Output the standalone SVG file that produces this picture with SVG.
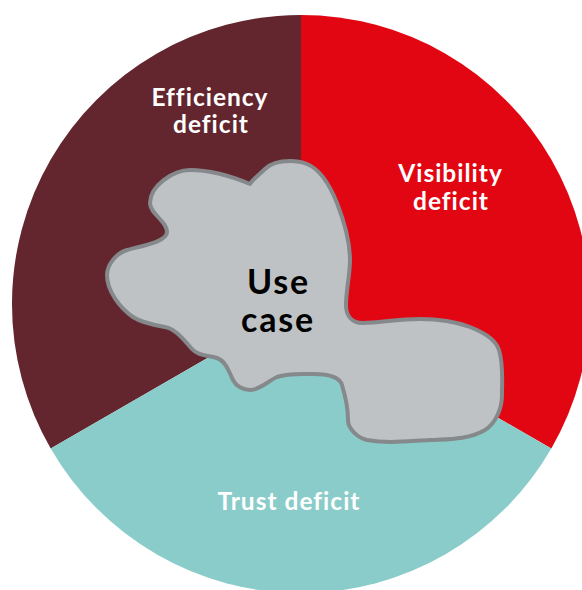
<svg xmlns="http://www.w3.org/2000/svg" width="582" height="590" viewBox="0 0 582 590">
<style>
.lbl{font-family:Lato,"Open Sans","Liberation Sans",sans-serif;font-weight:bold;fill:#ffffff;font-size:24.5px;text-anchor:middle;letter-spacing:1px;font-variant-ligatures:none}
.uc{font-family:Lato,"Open Sans","Liberation Sans",sans-serif;font-weight:bold;fill:#000000;font-size:34px;text-anchor:middle;letter-spacing:1.8px}
</style>
<rect width="582" height="590" fill="#ffffff"/>
<g id="efficiency">
<path d="M301,304 L301,15 A289,289 0 0 0 50.7,448.5 Z" fill="#63252E"/>
<text class="lbl" x="210" y="106">Efficiency</text>
<text class="lbl" x="211" y="133">deficit</text>
</g>
<g id="visibility">
<path d="M301,304 L301,15 A289,289 0 0 1 551.3,448.5 Z" fill="#E20613"/>
</g>
<g id="trust">
<path d="M301,304 L551.3,448.5 A289,289 0 0 1 50.7,448.5 Z" fill="#89CCC9"/>
<text class="lbl" x="289" y="510">Trust deficit</text>
</g>
<g id="usecase">
<path d="M250,184 C231,176 210,170 190,170 C173,170 150,186 150,203 C150,214 167,221 167,232 C167,242 141,246 127,250 C117,253 107,264 107,275 C107,291 120,308 133,317 C142,323 154,325 165,327 C176,329 184,340 192,349 C198,356 208,355 217,358 C226,361 229,372 233,380 C236,386 243,390 250,390 C260,390 268,381 277,377 C288,373 301,374 313,374 C323,374 339,375 342,385 C345.5,396.5 348,408 348,420 C348,429 358,438 367,440 C388,444 409,441 430,440 C449,439 469,439.5 485,430 C496,423 502,408 502,395 C502,380 503.5,364 499,350 C495,338 481,331.5 470,327 C454,321 437,319 420,319 C401,319 382,322 363,323 C352,323 346,316 346,305 C346,290 350,275 350,260 C350,240 344,221 337,203 C331,188 322,170 307,164 C302,162 296,161 290,161 C281,161 271,163 265,169 C260,174 253,179 250,184 Z" fill="#BFC2C4" stroke="#85898B" stroke-width="4" stroke-linejoin="round"/>
<text class="uc" x="278.5" y="294">Use</text>
<text class="uc" x="278" y="332">case</text>
</g>
<g id="visibility-label">
<text class="lbl" x="450.5" y="182">Visibility</text>
<text class="lbl" x="451" y="210">deficit</text>
</g>
<g id="connectors"/>
</svg>
